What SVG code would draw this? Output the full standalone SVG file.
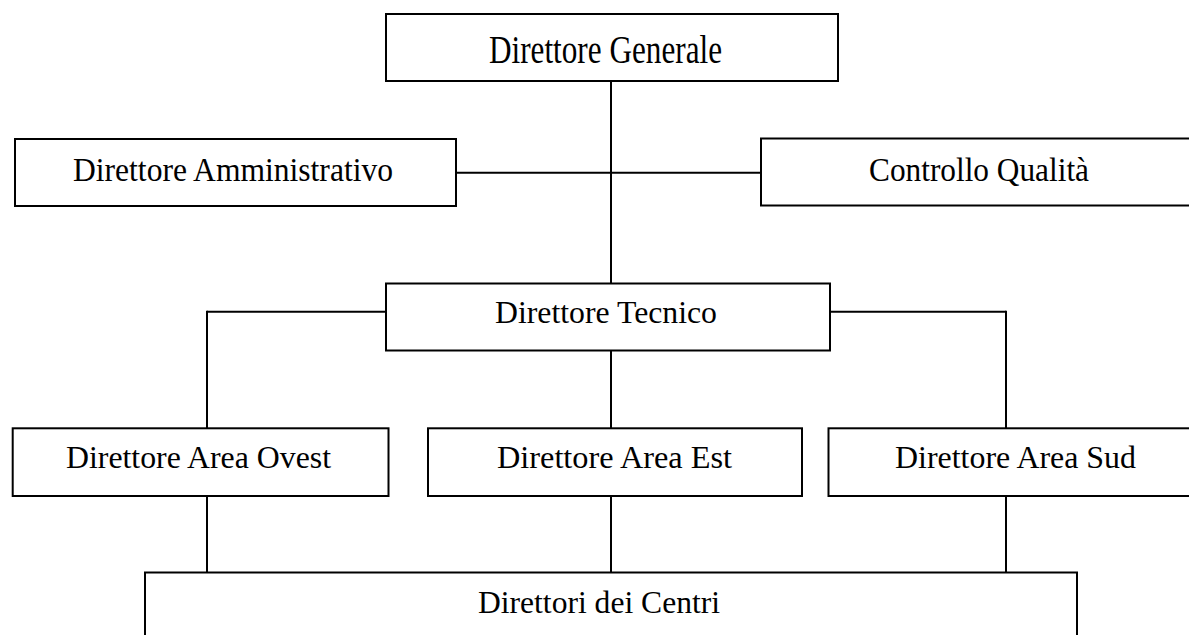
<svg xmlns="http://www.w3.org/2000/svg" width="1189" height="635" viewBox="0 0 1189 635">
<style>
.box{fill:#fff;stroke:#000;stroke-width:2}
.conn line{stroke:#000;stroke-width:2}
text{font-family:"Liberation Serif","Times New Roman",serif;font-size:32px;fill:#000;text-anchor:middle}
</style>
<rect width="1189" height="635" fill="#fff"/>
<g id="connectors" class="conn">
<line x1="611" y1="81" x2="611" y2="283.5"/>
<line x1="456" y1="172.7" x2="761" y2="172.7"/>
<line x1="207" y1="311.7" x2="386" y2="311.7"/>
<line x1="830" y1="311.7" x2="1006" y2="311.7"/>
<line x1="207" y1="310.7" x2="207" y2="428.3"/>
<line x1="1006" y1="310.7" x2="1006" y2="428.3"/>
<line x1="611" y1="350.5" x2="611" y2="428.3"/>
<line x1="207" y1="496" x2="207" y2="572.5"/>
<line x1="611" y1="496" x2="611" y2="572.5"/>
<line x1="1006" y1="496" x2="1006" y2="572.5"/>
</g>
<g id="direttore-generale">
<rect class="box" x="386" y="14" width="452" height="67"/>
<text x="605.5" y="63" style="font-size:39px" textLength="233" lengthAdjust="spacingAndGlyphs">Direttore Generale</text>
</g>
<g id="direttore-amministrativo">
<rect class="box" x="15" y="139" width="441" height="67"/>
<text x="233" y="181" style="font-size:34px" textLength="320" lengthAdjust="spacingAndGlyphs">Direttore Amministrativo</text>
</g>
<g id="controllo-qualita">
<rect class="box" x="761" y="138.5" width="440" height="67"/>
<text x="979" y="181" style="font-size:34px" textLength="220" lengthAdjust="spacingAndGlyphs">Controllo Qualità</text>
</g>
<g id="direttore-tecnico">
<rect class="box" x="386" y="283.5" width="444" height="67"/>
<text x="606" y="323" textLength="222" lengthAdjust="spacingAndGlyphs">Direttore Tecnico</text>
</g>
<g id="direttore-area-ovest">
<rect class="box" x="12.7" y="428.3" width="375.8" height="67.7"/>
<text x="198.5" y="468.3" textLength="265" lengthAdjust="spacingAndGlyphs">Direttore Area Ovest</text>
</g>
<g id="direttore-area-est">
<rect class="box" x="428" y="428.3" width="374" height="67.7"/>
<text x="614.5" y="468.3" textLength="235" lengthAdjust="spacingAndGlyphs">Direttore Area Est</text>
</g>
<g id="direttore-area-sud">
<rect class="box" x="828.5" y="428.3" width="380" height="67.7"/>
<text x="1015.5" y="468.3" textLength="241" lengthAdjust="spacingAndGlyphs">Direttore Area Sud</text>
</g>
<g id="direttori-dei-centri">
<rect class="box" x="145" y="572.5" width="932" height="80"/>
<text x="599" y="613" textLength="242" lengthAdjust="spacingAndGlyphs">Direttori dei Centri</text>
</g>
</svg>
